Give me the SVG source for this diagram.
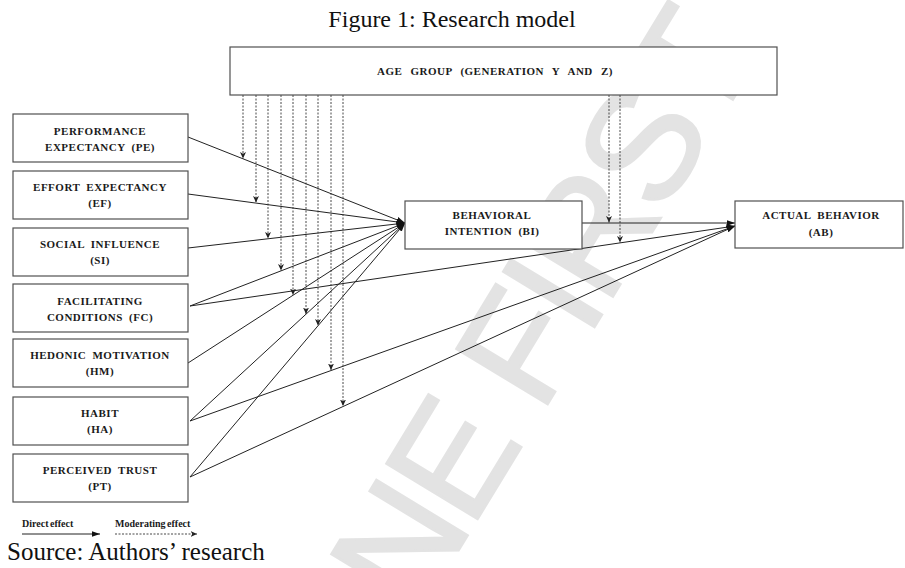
<svg xmlns="http://www.w3.org/2000/svg" width="905" height="568" viewBox="0 0 905 568">
<style>
.bg{fill:#ffffff}
.wm{font-family:"Liberation Sans",Arial,sans-serif;font-size:155px;letter-spacing:-6px;fill:#e3e3e3;stroke:#e3e3e3;stroke-width:2.5}
.box{fill:#ffffff;stroke:#505050;stroke-width:1.2}
.lbl{font-family:"Liberation Serif","Times New Roman",serif;font-weight:bold;font-size:11px;fill:#1a1a1a;text-anchor:middle;letter-spacing:0.5px;word-spacing:3px}
.title{font-family:"Liberation Serif","Times New Roman",serif;font-size:24px;fill:#111;text-anchor:middle}
.src{font-family:"Liberation Serif","Times New Roman",serif;font-size:25px;fill:#111}
.leg{font-family:"Liberation Serif","Times New Roman",serif;font-weight:bold;font-size:10px;fill:#1a1a1a;word-spacing:-1px}
.direct{fill:none;stroke:#222;stroke-width:1;marker-end:url(#ah)}
.mod{fill:none;stroke:#333;stroke-width:0.9;stroke-dasharray:2 1.5;marker-end:url(#ahd)}
</style>
<defs>
<marker id="ah" markerUnits="userSpaceOnUse" markerWidth="9" markerHeight="7" refX="8.5" refY="3.5" orient="auto">
<path d="M0,0.5 L8.5,3.5 L0,6.5 Z" fill="#111"/>
</marker>
<marker id="ahd" markerUnits="userSpaceOnUse" markerWidth="7" markerHeight="7" refX="6.5" refY="3.5" orient="auto">
<path d="M0,0.5 L6.5,3.5 L0,6.5 L1.8,3.5 Z" fill="#222"/>
</marker>
</defs>
<rect class="bg" x="0" y="0" width="905" height="568"/>
<text class="wm" text-anchor="end" transform="translate(758,58) rotate(-58.7)">ONLINE FIRST</text>
<text class="title" x="452" y="27">Figure 1: Research model</text>

<g id="connectors">
<path class="direct" d="M188,137 L405,223"/>
<path class="direct" d="M188,194 L405,223"/>
<path class="direct" d="M188,248 L405,223"/>
<path class="direct" d="M190,306 L405,223"/>
<path class="direct" d="M188,363 L405,223"/>
<path class="direct" d="M190,421 L405,223"/>
<path class="direct" d="M190,477 L405,223"/>
<path class="direct" d="M582,223 L735,223"/>
<path class="direct" d="M190,306 L735,226"/>
<path class="direct" d="M190,421 L735,226"/>
<path class="direct" d="M190,477 L735,226"/>
<path class="mod" d="M243,95 L243,158.5"/>
<path class="mod" d="M256,95 L256,202.5"/>
<path class="mod" d="M268,95 L268,238.5"/>
<path class="mod" d="M281,95 L281,270.5"/>
<path class="mod" d="M293,95 L293,295"/>
<path class="mod" d="M306,95 L306,314"/>
<path class="mod" d="M318,95 L318,325.5"/>
<path class="mod" d="M331,95 L331,370"/>
<path class="mod" d="M343,95 L343,406"/>
<path class="mod" d="M609,95 L609,222.5"/>
<path class="mod" d="M620,95 L620,242.5"/>
</g>

<g id="age">
<rect class="box" x="230" y="47" width="547" height="48"/>
<text class="lbl" x="495" y="75" style="word-spacing:5px">AGE GROUP (GENERATION Y AND Z)</text>
</g>
<g id="pe">
<rect class="box" x="13" y="114" width="175" height="48"/>
<text class="lbl" x="100" y="135">PERFORMANCE</text>
<text class="lbl" x="100" y="151">EXPECTANCY (PE)</text>
</g>
<g id="ee">
<rect class="box" x="13" y="171" width="175" height="48"/>
<text class="lbl" x="100" y="191">EFFORT EXPECTANCY</text>
<text class="lbl" x="100" y="207">(EF)</text>
</g>
<g id="si">
<rect class="box" x="13" y="228" width="175" height="48"/>
<text class="lbl" x="100" y="248">SOCIAL INFLUENCE</text>
<text class="lbl" x="100" y="264">(SI)</text>
</g>
<g id="fc">
<rect class="box" x="13" y="284" width="175" height="48"/>
<text class="lbl" x="100" y="305">FACILITATING</text>
<text class="lbl" x="100" y="321">CONDITIONS (FC)</text>
</g>
<g id="hm">
<rect class="box" x="13" y="339" width="175" height="48"/>
<text class="lbl" x="100" y="359">HEDONIC MOTIVATION</text>
<text class="lbl" x="100" y="375">(HM)</text>
</g>
<g id="ha">
<rect class="box" x="13" y="397" width="175" height="48"/>
<text class="lbl" x="100" y="417">HABIT</text>
<text class="lbl" x="100" y="433">(HA)</text>
</g>
<g id="pt">
<rect class="box" x="13" y="454" width="175" height="48"/>
<text class="lbl" x="100" y="474">PERCEIVED TRUST</text>
<text class="lbl" x="100" y="490">(PT)</text>
</g>
<g id="bi">
<rect class="box" x="405" y="201" width="177" height="48"/>
<text class="lbl" x="492" y="219">BEHAVIORAL</text>
<text class="lbl" x="492" y="235">INTENTION (BI)</text>
</g>
<g id="ab">
<rect class="box" x="735" y="201" width="168" height="47"/>
<text class="lbl" x="821" y="219">ACTUAL BEHAVIOR</text>
<text class="lbl" x="821" y="236">(AB)</text>
</g>

<g id="legend">
<text class="leg" x="22" y="527">Direct effect</text>
<path class="direct" d="M22,534 L100,534"/>
<text class="leg" x="115" y="527">Moderating effect</text>
<path class="mod" d="M115,534 L197,534"/>
</g>
<text class="src" x="7" y="560">Source: Authors’ research</text>
</svg>
